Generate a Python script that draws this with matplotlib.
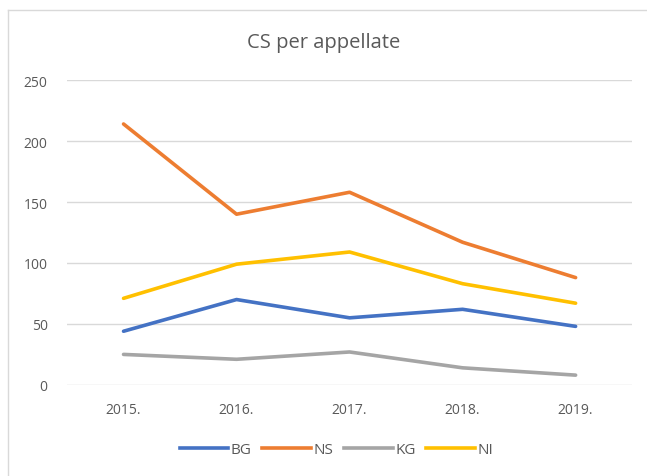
import matplotlib
matplotlib.use("Agg")
import matplotlib.pyplot as plt
from matplotlib.lines import Line2D

years = ["2015.", "2016.", "2017.", "2018.", "2019."]
BG = [44, 70, 55, 62, 48]
NS = [214, 140, 158, 117, 88]
KG = [25, 21, 27, 14, 8]
NI = [71, 99, 109, 83, 67]
series_names = ["BG", "NS", "KG", "NI"]
colors = ["#4472C4", "#ED7D31", "#A5A5A5", "#FFC000"]

plt.rcParams['font.family'] = ['Open Sans', 'DejaVu Sans']

fig = plt.figure(figsize=(6.47, 4.77), dpi=100)
ax = fig.add_axes([0.1036, 0.191, 0.8734, 0.639])

x = list(range(len(years)))
for name, vals, c in zip(series_names, [BG, NS, KG, NI], colors):
    ax.plot(x, vals, color=c, lw=2.6, label=name, solid_capstyle='round', solid_joinstyle='round')

ax.set_xlim(-0.5, len(years) - 0.5)
ax.set_ylim(0, 250)
ax.set_yticks(range(0, 251, 50))
ax.set_xticks(x)
ax.set_xticklabels(years)
ax.yaxis.grid(True, color="#D9D9D9", lw=1)
ax.set_axisbelow(True)
for s in ax.spines.values():
    s.set_visible(False)
ax.tick_params(axis='both', length=0, labelsize=10, labelcolor="#595959")
ax.tick_params(axis='x', pad=12)
ax.tick_params(axis='y', pad=14)

fig.text(0.5, 0.91, "CS per appellate", ha='center', va='center', fontsize=14.5, color="#595959")

handles = [Line2D([0], [0], color=c, lw=2.6) for c in colors]
fig.legend(handles, series_names, loc='center', bbox_to_anchor=(0.52, 0.055), ncol=4, frameon=False,
           fontsize=11, labelcolor="#595959", handlelength=3.2, handletextpad=0.15, columnspacing=0.7)

# chart border (partially cropped in reference)
fig.add_artist(Line2D([8/647, 8/647], [0, 1 - 11/477], transform=fig.transFigure, color="#D9D9D9", lw=1))
fig.add_artist(Line2D([8/647, 1], [1 - 11/477, 1 - 11/477], transform=fig.transFigure, color="#D9D9D9", lw=1))

fig.savefig("out.png", dpi=100, facecolor="white")
